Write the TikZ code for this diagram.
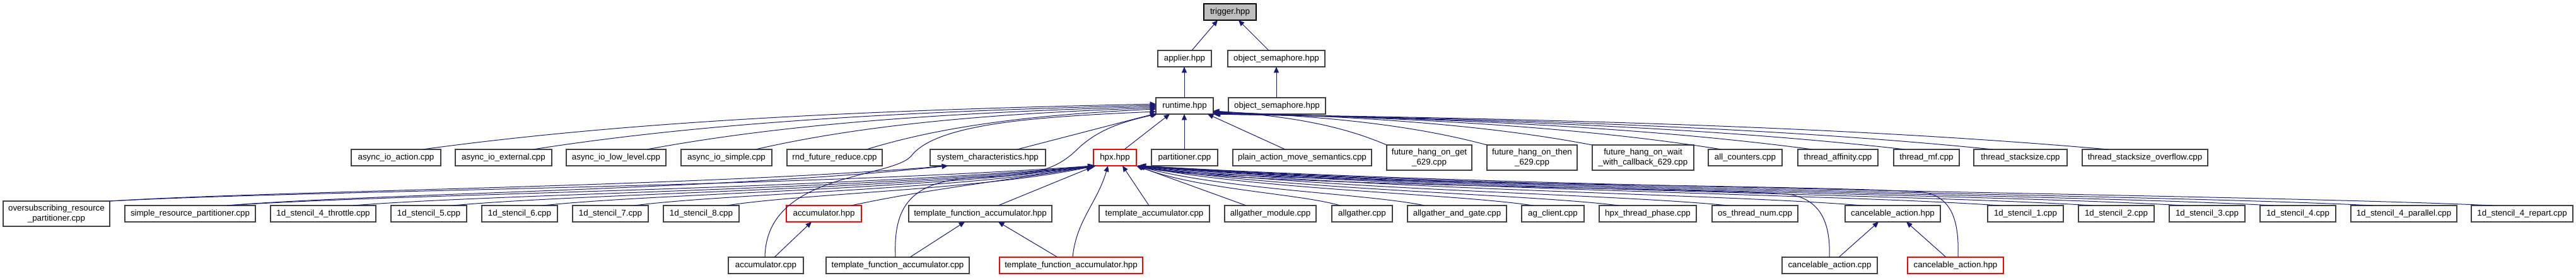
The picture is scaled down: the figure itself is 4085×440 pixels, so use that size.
\documentclass[tikz,border=0pt]{standalone}
\usepackage{fontspec}
\setmainfont{Liberation Sans}
\usetikzlibrary{calc,arrows.meta}
\definecolor{edgeblue}{HTML}{191970}
\definecolor{boxline}{HTML}{404040}
\definecolor{trigfill}{HTML}{BFBFBF}
\tikzset{
  nbox/.style={draw=boxline, line width=0.9pt, fill=white, inner sep=0pt, outer sep=0pt,
    align=center, font=\fontsize{10}{11.5}\selectfont},
  redbox/.style={draw=red},
  lnk/.style={draw=edgeblue, line width=0.75pt, {Triangle[length=7pt,width=6pt]}-},
}
% \bx[opt]{name}{left}{right}{top}{bottom}{text}   (pixel coordinates)
\newcommand\bx[7][]{\node[nbox,#1,minimum width={(#4-#3)*0.75pt},minimum height={(#6-#5)*0.75pt}] (#2) at ({(#3+#4)/2},{(#5+#6)/2}) {#7};}
% \lk[opt]{parent point}{child point}{a}{b}{c}{d}
\newcommand\lk[7][]{\draw[lnk,#1] let \p1=(#2),\p2=(#3) in (\p1) .. controls ({\x1+#4*(\x2-\x1)},{\y1+#5*(\y2-\y1)}) and ({\x2-#6*(\x2-\x1)},{\y2-#7*(\y2-\y1)}) .. (\p2);}
\begin{document}
\begin{tikzpicture}[x=0.75pt,y=-0.75pt]
\fill[white] (0,0) rectangle (4085,440);
\useasboundingbox (0,0) rectangle (4085,440);
% row 0-2
\bx[fill=trigfill,draw=black]{trig}{1909}{1992}{6}{32}{trigger.hpp}
\bx{appl}{1836}{1921}{80}{106}{applier.hpp}
\bx{os1}{1947}{2101}{80}{106}{object\_semaphore.hpp}
\bx{rt}{1833}{1924}{155}{181}{runtime.hpp}
\bx{os2}{1948}{2102}{155}{181}{object\_semaphore.hpp}
% row 3
\bx{aia}{557}{699}{237}{263}{async\_io\_action.cpp}
\bx{aie}{722}{875}{237}{263}{async\_io\_external.cpp}
\bx{ail}{898}{1056}{237}{263}{async\_io\_low\_level.cpp}
\bx{ais}{1080}{1224}{237}{263}{async\_io\_simple.cpp}
\bx{rnd}{1248}{1399}{237}{263}{rnd\_future\_reduce.cpp}
\bx{sysc}{1475}{1658}{237}{263}{system\_characteristics.hpp}
\bx[redbox]{hpx}{1734}{1802}{237}{263}{hpx.hpp}
\bx{part}{1826}{1931}{237}{263}{partitioner.cpp}
\bx{plain}{1955}{2175}{237}{263}{plain\_action\_move\_semantics.cpp}
\bx{fget}{2199}{2334}{230}{270}{future\_hang\_on\_get\\\_629.cpp}
\bx{fthen}{2358}{2501}{230}{270}{future\_hang\_on\_then\\\_629.cpp}
\bx{fwait}{2525}{2686}{230}{270}{future\_hang\_on\_wait\\\_with\_callback\_629.cpp}
\bx{allc}{2709}{2826}{237}{263}{all\_counters.cpp}
\bx{taff}{2851}{2978}{237}{263}{thread\_affinity.cpp}
\bx{tmf}{3003}{3107}{237}{263}{thread\_mf.cpp}
\bx{tss}{3130}{3278}{237}{263}{thread\_stacksize.cpp}
\bx{tsso}{3302}{3501}{237}{263}{thread\_stacksize\_overflow.cpp}
% row 4
\bx{orp}{5}{174}{319}{359}{oversubscribing\_resource\\\_partitioner.cpp}
\bx{srp}{198}{405}{326}{352}{simple\_resource\_partitioner.cpp}
\bx{st4t}{429}{596}{326}{352}{1d\_stencil\_4\_throttle.cpp}
\bx{st5}{620}{740}{326}{352}{1d\_stencil\_5.cpp}
\bx{st6}{764}{884}{326}{352}{1d\_stencil\_6.cpp}
\bx{st7}{908}{1028}{326}{352}{1d\_stencil\_7.cpp}
\bx{st8}{1052}{1172}{326}{352}{1d\_stencil\_8.cpp}
\bx[redbox]{acch}{1247}{1366}{326}{352}{accumulator.hpp}
\bx{tfah4}{1441}{1668}{326}{352}{template\_function\_accumulator.hpp}
\bx{tacc}{1743}{1918}{326}{352}{template\_accumulator.cpp}
\bx{agmod}{1942}{2087}{326}{352}{allgather\_module.cpp}
\bx{ag}{2112}{2208}{326}{352}{allgather.cpp}
\bx{agag}{2232}{2389}{326}{352}{allgather\_and\_gate.cpp}
\bx{agcl}{2413}{2512}{326}{352}{ag\_client.cpp}
\bx{hpxtp}{2536}{2690}{326}{352}{hpx\_thread\_phase.cpp}
\bx{osn}{2715}{2851}{326}{352}{os\_thread\_num.cpp}
\bx{cah4}{2926}{3077}{326}{352}{cancelable\_action.hpp}
\bx{st1}{3152}{3272}{326}{352}{1d\_stencil\_1.cpp}
\bx{st2}{3296}{3416}{326}{352}{1d\_stencil\_2.cpp}
\bx{st3}{3440}{3560}{326}{352}{1d\_stencil\_3.cpp}
\bx{st4}{3584}{3704}{326}{352}{1d\_stencil\_4.cpp}
\bx{st4p}{3728}{3896}{326}{352}{1d\_stencil\_4\_parallel.cpp}
\bx{st4r}{3919}{4080}{326}{352}{1d\_stencil\_4\_repart.cpp}
% row 5
\bx{accc}{1155}{1274}{408}{434}{accumulator.cpp}
\bx{tfac}{1310}{1537}{408}{434}{template\_function\_accumulator.cpp}
\bx[redbox]{tfah5}{1585}{1812}{408}{434}{template\_function\_accumulator.hpp}
\bx{cac}{2826}{2977}{408}{434}{cancelable\_action.cpp}
\bx[redbox]{cah5}{3025}{3177}{408}{434}{cancelable\_action.hpp}

% ---- edges: top
\draw[lnk] ($(trig.south west)+(22,0)$) -- ($(appl.north west)+(54,0)$);
\draw[lnk] ($(trig.south west)+(55,0)$) -- ($(os1.north west)+(65,0)$);
\draw[lnk] ($(appl.south west)+(42,0)$) -- ($(rt.north west)+(45,0)$);
\draw[lnk] ($(os1.south west)+(77,0)$) -- ($(os2.north west)+(76,0)$);
% runtime <- left row 3
\lk{$(rt.north west)+(0,10)$}{$(aia.north west)+(113,0)$}{0.45}{0.15}{0.25}{0.55}
\lk{$(rt.north west)+(0,12)$}{$(aie.north west)+(123,0)$}{0.45}{0.15}{0.25}{0.55}
\lk{$(rt.north west)+(0,14)$}{$(ail.north west)+(128,0)$}{0.45}{0.15}{0.25}{0.55}
\lk{$(rt.north west)+(0,16)$}{$(ais.north west)+(118,0)$}{0.45}{0.15}{0.25}{0.55}
\lk{$(rt.north west)+(0,18)$}{$(rnd.north west)+(126,0)$}{0.45}{0.15}{0.25}{0.55}
\draw[lnk] ($(rt.north west)+(0,25)$) -- ($(sysc.north west)+(138,0)$);
\draw[lnk] ($(rt.north west)+(0,22)$) .. controls (1650,185) and (1490,195) .. (1447,245)
  .. controls (1420,285) and (1215,270) .. ($(accc.north west)+(58,0)$);
\draw[lnk] ($(rt.south west)+(2,0)$) .. controls (1770,195) and (1735,210) .. (1705,240)
  .. controls (1675,268) and (1640,279) .. (1560,281)
  .. controls (1450,284) and (1416,320) .. ($(tfac.north west)+(110,0)$);
% runtime <- middle
\draw[lnk] ($(rt.south west)+(22,0)$) -- ($(hpx.north west)+(49,0)$);
\draw[lnk] ($(rt.south west)+(45,0)$) -- ($(part.north west)+(52,0)$);
\draw[lnk] ($(rt.south west)+(82,0)$) -- ($(plain.north west)+(83,0)$);
% runtime <- right row 3
\lk{$(rt.south east)+(0,-5)$}{fget.north west}{0.45}{0.15}{0.25}{0.55}
\lk{$(rt.south east)+(0,-4)$}{fthen.north west}{0.45}{0.15}{0.25}{0.55}
\lk{$(rt.south east)+(0,-3)$}{fwait.north west}{0.45}{0.15}{0.25}{0.55}
\lk{$(rt.south east)+(0,-2)$}{$(allc.north west)+(21,0)$}{0.45}{0.15}{0.25}{0.55}
\lk{$(rt.south east)+(0,-1)$}{$(taff.north west)+(23,0)$}{0.45}{0.15}{0.25}{0.55}
\lk{$(rt.south east)+(0,0)$}{$(tmf.north west)+(18,0)$}{0.45}{0.15}{0.25}{0.55}
\lk{$(rt.south east)+(1,0)$}{$(tss.north west)+(30,0)$}{0.45}{0.15}{0.25}{0.55}
\lk{$(rt.south east)+(2,0)$}{$(tsso.north west)+(41,0)$}{0.45}{0.15}{0.25}{0.55}
% system_characteristics <- partitioner examples
\lk{$(sysc.south west)+(28,0)$}{orp.north east}{0.3}{0.6}{0.2}{0.3}
\lk{$(sysc.south west)+(28,0)$}{$(srp.north west)+(162,0)$}{0.3}{0.6}{0.2}{0.3}
% hpx <- left row 4
\lk{$(hpx.south west)+(0,0)$}{orp.north east}{0.3}{0.6}{0.2}{0.3}
\lk{$(hpx.south west)+(1,0)$}{$(srp.north west)+(162,0)$}{0.3}{0.6}{0.2}{0.3}
\lk{$(hpx.south west)+(1,0)$}{$(st4t.north west)+(131,0)$}{0.3}{0.6}{0.2}{0.3}
\lk{$(hpx.south west)+(2,0)$}{$(st5.north west)+(98,0)$}{0.3}{0.6}{0.2}{0.3}
\lk{$(hpx.south west)+(2,0)$}{$(st6.north west)+(97,0)$}{0.3}{0.6}{0.2}{0.3}
\lk{$(hpx.south west)+(3,0)$}{$(st7.north west)+(98,0)$}{0.3}{0.6}{0.2}{0.3}
\lk{$(hpx.south west)+(3,0)$}{$(st8.north west)+(101,0)$}{0.3}{0.6}{0.2}{0.3}
\lk{$(hpx.south west)+(4,0)$}{$(acch.north west)+(103,0)$}{0.4}{0.4}{0.3}{0.4}
\draw[lnk] ($(hpx.south west)+(-2,2)$) -- ($(tfah4.north west)+(142,0)$);
\lk{$(hpx.south west)+(23,0)$}{$(tfah5.north west)+(116,0)$}{0.3}{0.4}{0.1}{0.4}
\draw[lnk] ($(hpx.south west)+(46,0)$) -- ($(tacc.north west)+(79,0)$);
% hpx <- right row 4
\draw[lnk] ($(hpx.south east)+(0,0)$) -- ($(agmod.north west)+(34,0)$);
\lk{$(hpx.south east)+(1,0)$}{$(ag.north west)+(13,0)$}{0.3}{0.6}{0.2}{0.3}
\lk{$(hpx.south east)+(1,0)$}{$(agag.north west)+(27,0)$}{0.3}{0.6}{0.2}{0.3}
\lk{$(hpx.south east)+(2,0)$}{$(agcl.north west)+(18,0)$}{0.3}{0.6}{0.2}{0.3}
\lk{$(hpx.south east)+(2,0)$}{$(hpxtp.north west)+(31,0)$}{0.3}{0.6}{0.2}{0.3}
\lk{$(hpx.south east)+(3,0)$}{$(osn.north west)+(25,0)$}{0.3}{0.6}{0.2}{0.3}
\lk{$(hpx.south east)+(3,0)$}{$(cah4.north west)+(27,0)$}{0.3}{0.6}{0.2}{0.3}
\lk{$(hpx.south east)+(4,0)$}{$(st1.north west)+(19,0)$}{0.3}{0.6}{0.2}{0.3}
\lk{$(hpx.south east)+(4,0)$}{$(st2.north west)+(22,0)$}{0.3}{0.6}{0.2}{0.3}
\lk{$(hpx.south east)+(5,0)$}{$(st3.north west)+(23,0)$}{0.3}{0.6}{0.2}{0.3}
\lk{$(hpx.south east)+(5,0)$}{$(st4.north west)+(21,0)$}{0.3}{0.6}{0.2}{0.3}
\lk{$(hpx.south east)+(6,0)$}{$(st4p.north west)+(35,0)$}{0.3}{0.6}{0.2}{0.3}
\lk{$(hpx.south east)+(6,0)$}{$(st4r.north west)+(34,0)$}{0.3}{0.6}{0.2}{0.3}
\draw[lnk] ($(hpx.south east)+(3,1)$) .. controls (1950,295) and (2700,298) .. (2835,308)
  .. controls (2885,315) and (2903,350) .. ($(cac.north west)+(75,0)$);
\draw[lnk] ($(hpx.south east)+(4,1)$) .. controls (1950,292) and (2880,292) .. (3050,305)
  .. controls (3095,312) and (3107,350) .. ($(cah5.north west)+(80,0)$);
% local includes
\draw[lnk] ($(acch.south west)+(40,0)$) -- ($(accc.north west)+(73,0)$);
\draw[lnk] ($(tfah4.south west)+(89,0)$) -- ($(tfac.north west)+(133,0)$);
\draw[lnk] ($(tfah4.south west)+(142,0)$) -- ($(tfah5.north west)+(92,0)$);
\draw[lnk] ($(cah4.south west)+(53,0)$) -- ($(cac.north west)+(90,0)$);
\draw[lnk] ($(cah4.south west)+(97,0)$) -- ($(cah5.north west)+(61,0)$);
\end{tikzpicture}
\end{document}
